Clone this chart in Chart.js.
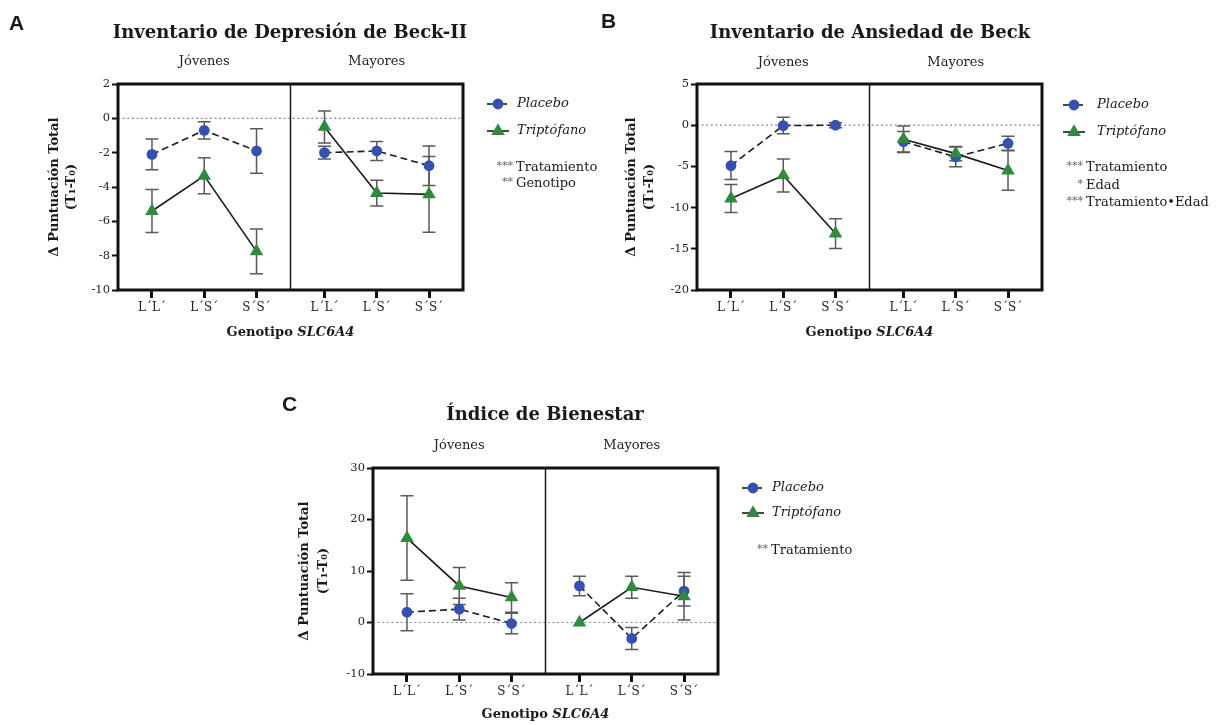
<!DOCTYPE html>
<html>
<head>
<meta charset="utf-8">
<script src="https://cdn.jsdelivr.net/npm/chart.js@4.4.1/dist/chart.umd.min.js"></script>
<style>
  html, body { margin:0; padding:0; background:#fff; }
  #wrap { position:relative; width:1226px; height:725px; }
  canvas { position:absolute; left:0; top:0; }
</style>
</head>
<body>
<div id="wrap">
  <canvas id="cA" width="1226" height="725"></canvas>
  <canvas id="cB" width="1226" height="725"></canvas>
  <canvas id="cC" width="1226" height="725"></canvas>
</div>
<script>
// ---------- DATA ----------
const categories = ["L´L´", "L´S´", "S´S´", "L´L´", "L´S´", "S´S´"];
const groups = ["Jóvenes", "Mayores"];
const seriesNames = ["Placebo", "Triptófano"];

// A: Inventario de Depresión de Beck-II
const bdiPlacebo    = [-2.1, -0.7, -1.9, -2.0, -1.9, -2.76];
const bdiPlaceboSem = [0.9, 0.5, 1.3, 0.37, 0.55, 1.15];
const bdiTrip       = [-5.4, -3.35, -7.75, -0.5, -4.35, -4.43];
const bdiTripSem    = [1.25, 1.05, 1.3, 0.93, 0.75, 2.2];
const bdiYTicks     = [2, 0, -2, -4, -6, -8, -10];

// B: Inventario de Ansiedad de Beck
const baiPlacebo    = [-4.9, -0.05, 0.0, -2.0, -3.85, -2.2];
const baiPlaceboSem = [1.7, 1.0, 0.3, 1.25, 1.2, 0.85];
const baiTrip       = [-8.9, -6.1, -13.15, -1.7, -3.45, -5.5];
const baiTripSem    = [1.7, 2.0, 1.8, 1.6, 0.85, 2.4];
const baiYTicks     = [5, 0, -5, -10, -15, -20];

// C: Índice de Bienestar
const ibPlacebo    = [2.0, 2.6, -0.2, 7.1, -3.1, 6.1];
const ibPlaceboSem = [3.6, 2.1, 2.0, 1.9, 2.15, 2.9];
const ibTrip       = [16.4, 7.1, 4.87, 0.0, 6.85, 5.1];
const ibTripSem    = [8.2, 3.6, 2.86, 0.0, 2.15, 4.6];
const ibYTicks     = [30, 20, 10, 0, -10];

// ---------- STYLE / LAYOUT ----------
const W = 1226, H = 725;
const SERIF = "'DejaVu Serif', serif";
const BLUE = '#3450b2';
const GREEN = '#2e8a3c';
const INK = '#1a1a1a';
const ERR = '#5a5a5a';
const YW = 40, XH = 30;
const CIRCLE_R = 5.4, TRI_R = 7.8;
const xpos = i => (i < 3 ? i + 0.65 : i + 0.95);

function drawMarker(ctx, type, x, y) {
  ctx.save();
  if (type === 'circle') {
    ctx.fillStyle = BLUE;
    ctx.beginPath(); ctx.arc(x, y, CIRCLE_R, 0, Math.PI * 2); ctx.fill();
  } else {
    const r = TRI_R;
    ctx.fillStyle = GREEN;
    ctx.beginPath();
    ctx.moveTo(x, y - r);
    ctx.lineTo(x + r * 0.866, y + r * 0.5);
    ctx.lineTo(x - r * 0.866, y + r * 0.5);
    ctx.closePath(); ctx.fill();
  }
  ctx.restore();
}

function makeChart(id, p) {
  const a = p.area;
  const deco = {
    id: 'deco' + id,
    beforeDatasetsDraw(chart) {
      const ctx = chart.ctx, ca = chart.chartArea;
      const xs = chart.scales.x, ys = chart.scales.y;
      ctx.save();
      // zero dotted line
      ctx.strokeStyle = '#8a8a8a'; ctx.lineWidth = 1.2; ctx.setLineDash([2, 2.6]);
      const y0 = ys.getPixelForValue(0);
      ctx.beginPath(); ctx.moveTo(ca.left, y0); ctx.lineTo(ca.right, y0); ctx.stroke();
      ctx.setLineDash([]);
      // divider
      ctx.strokeStyle = INK; ctx.lineWidth = 1.5;
      const xd = xs.getPixelForValue(3.3);
      ctx.beginPath(); ctx.moveTo(xd, ca.top); ctx.lineTo(xd, ca.bottom); ctx.stroke();
      // box
      ctx.lineWidth = 3; ctx.strokeStyle = '#111';
      ctx.strokeRect(ca.left, ca.top, ca.right - ca.left, ca.bottom - ca.top);
      // error bars
      ctx.strokeStyle = ERR; ctx.lineWidth = 1.5;
      chart.data.datasets.forEach(ds => {
        ds.data.forEach((pt, i) => {
          const s = ds.sem[i];
          if (!s) return;
          const px = xs.getPixelForValue(pt.x);
          const yt = ys.getPixelForValue(pt.y + s), yb = ys.getPixelForValue(pt.y - s);
          ctx.beginPath();
          ctx.moveTo(px, yt); ctx.lineTo(px, yb);
          ctx.moveTo(px - 6.5, yt); ctx.lineTo(px + 6.5, yt);
          ctx.moveTo(px - 6.5, yb); ctx.lineTo(px + 6.5, yb);
          ctx.stroke();
        });
      });
      ctx.restore();
    },
    afterDraw(chart) {
      const ctx = chart.ctx, ca = chart.chartArea, xs = chart.scales.x;
      ctx.save();
      ctx.fillStyle = INK;
      ctx.textBaseline = 'middle';
      // panel letter
      ctx.font = "bold 21px 'Liberation Sans', Arial, sans-serif";
      ctx.textAlign = 'left';
      ctx.fillText(p.letter, p.letterX, p.letterY);
      // title
      ctx.font = "bold 18px " + SERIF;
      ctx.textAlign = 'center';
      ctx.fillText(p.title, p.titleX, p.titleY);
      // group labels
      ctx.font = "13px " + SERIF;
      ctx.fillStyle = '#222';
      ctx.fillText(groups[0], xs.getPixelForValue(xpos(1)), p.groupY);
      ctx.fillText(groups[1], xs.getPixelForValue(xpos(4)), p.groupY);
      // x title
      ctx.fillStyle = INK;
      const t1 = 'Genotipo ', t2 = 'SLC6A4';
      ctx.font = "bold 13px " + SERIF; const w1 = ctx.measureText(t1).width;
      ctx.font = "italic bold 13px " + SERIF; const w2 = ctx.measureText(t2).width;
      const cx = (ca.left + ca.right) / 2, xt = cx - (w1 + w2) / 2;
      ctx.textAlign = 'left';
      ctx.font = "bold 13px " + SERIF; ctx.fillText(t1, xt, p.xTitleY);
      ctx.font = "italic bold 13px " + SERIF; ctx.fillText(t2, xt + w1, p.xTitleY);
      // y title
      const cy = (ca.top + ca.bottom) / 2;
      ctx.font = "bold 13px " + SERIF;
      ctx.textAlign = 'center';
      ctx.save(); ctx.translate(p.yTitleX1, cy); ctx.rotate(-Math.PI / 2);
      ctx.fillText('Δ Puntuación Total', 0, 0); ctx.restore();
      ctx.save(); ctx.translate(p.yTitleX2, cy); ctx.rotate(-Math.PI / 2);
      ctx.fillText('(T₁-T₀)', 0, 0); ctx.restore();
      // legend
      const lx = p.legendX;
      [['circle', seriesNames[0], true], ['triangle', seriesNames[1], false]].forEach((row, k) => {
        const ly = p.legendY[k];
        ctx.strokeStyle = INK; ctx.lineWidth = 1.6;
        if (row[2]) {
          ctx.beginPath(); ctx.moveTo(lx, ly); ctx.lineTo(lx + 7, ly); ctx.stroke();
          ctx.beginPath(); ctx.moveTo(lx + 16, ly); ctx.lineTo(lx + 20, ly); ctx.stroke();
        } else {
          ctx.beginPath(); ctx.moveTo(lx, ly); ctx.lineTo(lx + 22, ly); ctx.stroke();
        }
        drawMarker(ctx, row[0], lx + 11, ly);
        ctx.fillStyle = INK;
        ctx.font = "italic 13px " + SERIF;
        ctx.textAlign = 'left';
        ctx.fillText(row[1], p.legendTextX, ly);
      });
      // annotations
      p.annots.forEach((an, k) => {
        const ay = p.annotY[k];
        ctx.font = "11px " + SERIF; ctx.fillStyle = '#666'; ctx.textAlign = 'right';
        ctx.fillText(an[0], p.annotX - 3, ay - 2);
        ctx.font = "13px " + SERIF; ctx.fillStyle = INK; ctx.textAlign = 'left';
        ctx.fillText(an[1], p.annotX, ay);
      });
      ctx.restore();
    }
  };

  const seg = color => ({ borderColor: c => (c.p0DataIndex === 2 ? 'rgba(0,0,0,0)' : color) });
  const toPts = arr => arr.map((v, i) => ({ x: xpos(i), y: v }));

  return new Chart(document.getElementById(id), {
    type: 'line',
    data: {
      datasets: [
        {
          label: seriesNames[1], data: toPts(p.trip), sem: p.tripSem,
          borderColor: INK, borderWidth: 1.6, segment: seg(INK),
          pointStyle: 'triangle', pointRadius: TRI_R, pointBorderWidth: 0,
          pointBackgroundColor: GREEN, pointBorderColor: GREEN, fill: false
        },
        {
          label: seriesNames[0], data: toPts(p.placebo), sem: p.placeboSem,
          borderColor: INK, borderWidth: 1.6, borderDash: [7, 4], segment: seg(INK),
          pointStyle: 'circle', pointRadius: CIRCLE_R, pointBorderWidth: 0,
          pointBackgroundColor: BLUE, pointBorderColor: BLUE, fill: false
        }
      ]
    },
    options: {
      responsive: false, animation: false,
      events: [],
      layout: { padding: { left: a.l - YW, right: W - a.r, top: a.t, bottom: H - a.b - XH } },
      plugins: { legend: { display: false }, tooltip: { enabled: false }, title: { display: false } },
      scales: {
        x: {
          type: 'linear', min: 0, max: 6.6,
          afterBuildTicks: s => { s.ticks = categories.map((c, i) => ({ value: xpos(i) })); },
          afterFit: s => { s.height = XH; },
          ticks: {
            callback: (v, i) => categories[i], autoSkip: false, maxRotation: 0,
            font: { family: SERIF, size: 12 }, color: '#222', padding: 3
          },
          grid: { drawOnChartArea: false, drawTicks: true, tickLength: 8, tickWidth: 3, tickColor: '#111' },
          border: { display: false }
        },
        y: {
          min: Math.min(...p.yTicks), max: Math.max(...p.yTicks),
          afterBuildTicks: s => { s.ticks = p.yTicks.slice().reverse().map(v => ({ value: v })); },
          afterFit: s => { s.width = YW; },
          ticks: { callback: v => String(v), font: { family: SERIF, size: 11.5 }, color: '#222', padding: 2 },
          grid: { drawOnChartArea: false, drawTicks: true, tickLength: 6, tickWidth: 2, tickColor: '#111' },
          border: { display: false }
        }
      }
    },
    plugins: [deco]
  });
}

makeChart('cA', {
  area: { l: 118, r: 463, t: 84, b: 290 },
  placebo: bdiPlacebo, placeboSem: bdiPlaceboSem, trip: bdiTrip, tripSem: bdiTripSem, yTicks: bdiYTicks,
  letter: 'A', letterX: 9, letterY: 24,
  title: 'Inventario de Depresión de Beck-II', titleX: 290, titleY: 33,
  groupY: 62, xTitleY: 333, yTitleX1: 55, yTitleX2: 72,
  legendX: 487, legendTextX: 517, legendY: [104, 131],
  annots: [['***', 'Tratamiento'], ['**', 'Genotipo']], annotX: 516, annotY: [168, 184]
});

makeChart('cB', {
  area: { l: 697, r: 1042, t: 84, b: 290 },
  placebo: baiPlacebo, placeboSem: baiPlaceboSem, trip: baiTrip, tripSem: baiTripSem, yTicks: baiYTicks,
  letter: 'B', letterX: 601, letterY: 22,
  title: 'Inventario de Ansiedad de Beck', titleX: 870, titleY: 33,
  groupY: 63, xTitleY: 333, yTitleX1: 632, yTitleX2: 650,
  legendX: 1063, legendTextX: 1097, legendY: [105, 132],
  annots: [['***', 'Tratamiento'], ['*', 'Edad'], ['***', 'Tratamiento•Edad']], annotX: 1086, annotY: [168, 186, 203]
});

makeChart('cC', {
  area: { l: 373, r: 718, t: 468, b: 674 },
  placebo: ibPlacebo, placeboSem: ibPlaceboSem, trip: ibTrip, tripSem: ibTripSem, yTicks: ibYTicks,
  letter: 'C', letterX: 282, letterY: 405,
  title: 'Índice de Bienestar', titleX: 545, titleY: 415,
  groupY: 446, xTitleY: 715, yTitleX1: 305, yTitleX2: 324,
  legendX: 742, legendTextX: 772, legendY: [488, 513],
  annots: [['**', 'Tratamiento']], annotX: 771, annotY: [551]
});
</script>
</body>
</html>
